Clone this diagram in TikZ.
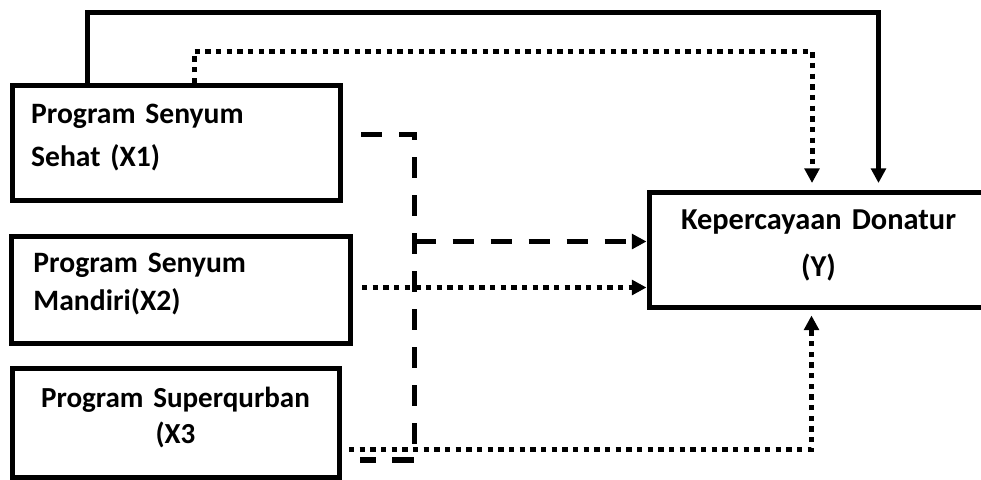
\documentclass[tikz,border=0pt]{standalone}
\usepackage{fontspec}
\setmainfont{Carlito}[WordSpace=0.85]
\usetikzlibrary{arrows.meta}
\newcommand{\extradepth}{\rule[-11pt]{0pt}{0pt}}
\tikzset{
  box/.style={draw, line width=3.75pt, inner ysep=0pt},
  tip/.style={-{Triangle[length=11pt,width=11pt]}},
  solidline/.style={line width=3.75pt},
  dashline/.style={line width=4pt, dash pattern=on 16pt off 12.5pt},
  dotline/.style={line width=3.75pt, dash pattern=on 4pt off 4pt},
}
\begin{document}
\begin{tikzpicture}[x=0.75pt,y=-0.75pt]
\useasboundingbox (0,0) rectangle (981,479);
% boxes
\node[box, minimum height=85.9pt, text width=218pt, inner xsep=14pt, align=left,
  font=\fontsize{22.2}{32}\selectfont\bfseries] (x1) at (176.5,142.75)
  {Program Senyum\\Sehat (X1)\extradepth};
\node[box, minimum height=80.25pt, text width=221.25pt, inner xsep=16.5pt, align=left,
  font=\fontsize{22.2}{28.5}\selectfont\bfseries] (x2) at (181,289.5)
  {Program Senyum\\Mandiri(X2)\extradepth};
\node[box, minimum height=81.75pt, text width=235.25pt, inner xsep=5pt, align=center,
  font=\fontsize{21.8}{27}\selectfont\bfseries] (x3) at (175.5,422.5)
  {Program Superqurban\\(X3\extradepth};
\node[box, minimum height=86.6pt, text width=244.25pt, inner xsep=5pt, align=center,
  font=\fontsize{22.8}{35.25}\selectfont\bfseries] (y) at (818.5,250.25)
  {Kepercayaan Donatur\\(Y)\extradepth};
% coordinates
\coordinate (s1) at (87,12.5);
\coordinate (s2) at (878.5,12.5);
\coordinate (d1) at (194.5,51);
\coordinate (d2) at (812,51);
\coordinate (a1) at (361,134.5);
\coordinate (a2) at (414.5,134.5);
\coordinate (a3) at (414.5,460);
\coordinate (a4) at (360,460);
\coordinate (a5) at (414.5,241.5);
\coordinate (b1) at (362,287.5);
\coordinate (c1) at (349,449);
\coordinate (c2) at (811.5,449);
% solid X1 -> Y
\draw[solidline, tip, shorten >=5.25pt] (s1 |- x1.north) -- (s1) -- (s2) -- (s2 |- y.north);
% dotted X1 -> Y
\draw[dotline, tip, shorten >=5.25pt] (d1 |- x1.north) -- (d1) -- (d2) -- (d2 |- y.north);
% dashed bracket X1, X3 -> Y
\draw[dashline] (a1) -- (a2) -- (a3) -- (a4);
\draw[dashline, tip] (a5) -- (a5 -| y.west);
% dotted X2 -> Y
\draw[dotline, tip] (b1) -- (b1 -| y.west);
% dotted X3 -> Y
\draw[dotline, tip, shorten >=3.75pt] (c1) -- (c2) -- (c2 |- y.south);
\end{tikzpicture}
\end{document}
